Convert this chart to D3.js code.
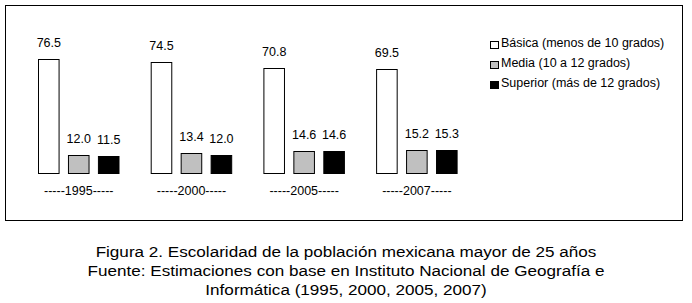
<!DOCTYPE html>
<html>
<head>
<meta charset="utf-8">
<script src="https://cdn.jsdelivr.net/npm/d3@7"></script>
<style>
  body { margin: 0; background: #fff; }
  text { font-family: "Liberation Sans", Arial, sans-serif; fill: #000; }
</style>
</head>
<body>
<svg id="chart" width="692" height="303"></svg>
<script>
// data
var years = ["1995", "2000", "2005", "2007"];
var series = ["Básica (menos de 10 grados)", "Media (10 a 12 grados)", "Superior (más de 12 grados)"];
var basica = [76.5, 74.5, 70.8, 69.5];
var media = [12.0, 13.4, 14.6, 15.2];
var superior = [11.5, 12.0, 14.6, 15.3];
var fills = ["#ffffff", "#c0c0c0", "#000000"];
var caption = [
    "Figura 2. Escolaridad de la población mexicana mayor de 25 años",
    "Fuente: Estimaciones con base en Instituto Nacional de Geografía e",
    "Informática (1995, 2000, 2005, 2007)"
];

var svg = d3.select("#chart");
var values = [basica, media, superior];

// frame around the plot
svg.append("rect")
    .attr("x", 5.5).attr("y", 5.5)
    .attr("width", 677).attr("height", 215)
    .attr("fill", "none").attr("stroke", "#000").attr("stroke-width", 1);

// scales: outer band per year, inner band per series
var x0 = d3.scaleBand().domain(years).range([38, 38 + 4 * 112.7]);
var x1 = d3.scaleBand().domain(series).range([0, 81.5]).paddingInner(0.28);
var y = d3.scaleLinear().domain([0, 80]).range([173, 173 - 80 * 1.49]);

var groups = svg.selectAll(".grp").data(years).enter().append("g")
    .attr("class", "grp")
    .attr("transform", d => "translate(" + x0(d) + ",0)");

groups.each(function(yr, i) {
    var g = d3.select(this);
    series.forEach(function(s, j) {
        var v = values[j][i];
        g.append("rect")
            .attr("x", x1(s) + 0.5)
            .attr("y", Math.round(y(v)) + 0.5)
            .attr("width", x1.bandwidth() - 1)
            .attr("height", Math.round(y(0)) - Math.round(y(v)))
            .attr("fill", fills[j])
            .attr("stroke", "#000").attr("stroke-width", 1);
        g.append("text")
            .attr("x", x1(s) + x1.bandwidth() / 2)
            .attr("y", y(v) - 12)
            .attr("text-anchor", "middle")
            .attr("font-size", 12.5)
            .text(v.toFixed(1));
    });
    // year label under each group
    g.append("text")
        .attr("x", 40.75)
        .attr("y", 195)
        .attr("text-anchor", "middle")
        .attr("font-size", 12.5)
        .text("-----" + yr + "-----");
});

// legend
var leg = svg.selectAll(".leg").data(series).enter().append("g")
    .attr("class", "leg")
    .attr("transform", (d, i) => "translate(490," + (38 + i * 20) + ")");
leg.append("rect")
    .attr("x", 0.5).attr("y", 3.5)
    .attr("width", 8).attr("height", 7)
    .attr("fill", (d, i) => fills[i])
    .attr("stroke", "#000");
leg.append("text")
    .attr("x", 11).attr("y", 9)
    .attr("font-size", 12.5)
    .text(d => d);

// caption under the frame (source text is a bit wider than Liberation Sans)
svg.append("g")
    .attr("transform", "translate(346,0) scale(1.14,1)")
    .selectAll(".cap").data(caption).enter().append("text")
    .attr("class", "cap")
    .attr("x", 0)
    .attr("y", (d, i) => 257 + i * 19)
    .attr("text-anchor", "middle")
    .attr("font-size", 15)
    .text(d => d);
</script>
</body>
</html>
